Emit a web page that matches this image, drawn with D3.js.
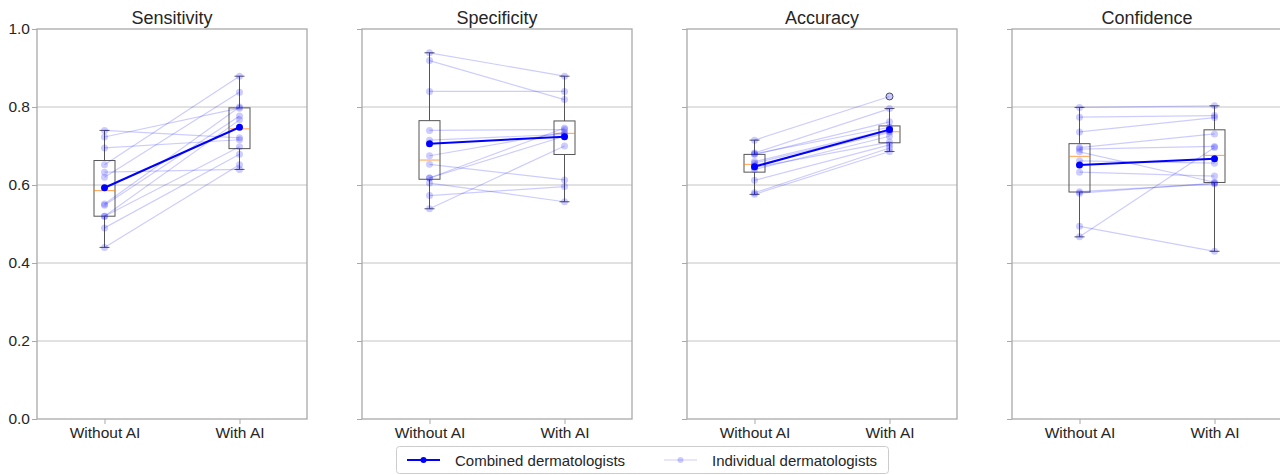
<!DOCTYPE html>
<html><head><meta charset="utf-8">
<script src="https://cdn.jsdelivr.net/npm/d3@7"></script>
<style>
body{margin:0;background:#fff;}
text{font-family:"Liberation Sans",Arial,sans-serif;}
</style>
</head><body>
<svg id="chart" width="1280" height="475"></svg>
<script>
// ---- data ----
const metrics = ["Sensitivity", "Specificity", "Accuracy", "Confidence"];
const conditions = ["Without AI", "With AI"];
const yTicks = [0.0, 0.2, 0.4, 0.6, 0.8, 1.0];

// individual dermatologists, paired (same index = same person)
const sensitivityWithout = [0.740, 0.723, 0.695, 0.652, 0.633, 0.620, 0.551, 0.548, 0.520, 0.520, 0.490, 0.440];
const sensitivityWith    = [0.721, 0.797, 0.716, 0.879, 0.640, 0.838, 0.800, 0.777, 0.767, 0.698, 0.679, 0.652];
const specificityWithout = [0.939, 0.919, 0.840, 0.740, 0.715, 0.675, 0.653, 0.618, 0.605, 0.573, 0.539, 0.618];
const specificityWith    = [0.879, 0.819, 0.840, 0.742, 0.730, 0.735, 0.613, 0.725, 0.557, 0.596, 0.700, 0.746];
const accuracyWithout    = [0.715, 0.682, 0.680, 0.678, 0.660, 0.656, 0.650, 0.645, 0.640, 0.612, 0.580, 0.576];
const accuracyWith       = [0.827, 0.796, 0.748, 0.762, 0.742, 0.738, 0.735, 0.710, 0.725, 0.703, 0.695, 0.686];
const confidenceWithout  = [0.799, 0.774, 0.736, 0.696, 0.692, 0.685, 0.662, 0.633, 0.583, 0.579, 0.494, 0.467];
const confidenceWith     = [0.803, 0.778, 0.773, 0.731, 0.699, 0.607, 0.656, 0.623, 0.603, 0.605, 0.430, 0.696];

// combined dermatologists
const combinedWithout = [0.593, 0.706, 0.647, 0.651];
const combinedWith    = [0.748, 0.724, 0.742, 0.667];

const legendLabels = ["Combined dermatologists", "Individual dermatologists"];

// ---- layout ----
const individual = [
  [sensitivityWithout, sensitivityWith],
  [specificityWithout, specificityWith],
  [accuracyWithout, accuracyWith],
  [confidenceWithout, confidenceWith]
];
const svg = d3.select("#chart");
const panelLeft = [37, 362, 687, 1012];
const pw = 270, plotTop = 29, plotBottom = 419;
const y = d3.scaleLinear().domain([0, 1]).range([plotBottom, plotTop]);
const x = d3.scalePoint().domain(conditions).range([0, pw]).padding(0.5);
const spineColor = "#a9a9a9", gridColor = "#c4c4c4", textColor = "#262626";
const boxHalf = 10.5, capHalf = 5;

function boxStats(arr) {
  const s = arr.slice().sort(d3.ascending);
  const q1 = d3.quantile(s, 0.25), med = d3.quantile(s, 0.5), q3 = d3.quantile(s, 0.75);
  const iqr = q3 - q1;
  const lo = d3.min(s.filter(v => v >= q1 - 1.5 * iqr));
  const hi = d3.max(s.filter(v => v <= q3 + 1.5 * iqr));
  const fliers = s.filter(v => v < lo || v > hi);
  return {q1, med, q3, lo, hi, fliers};
}

metrics.forEach((m, i) => {
  const g = svg.append("g").attr("transform", `translate(${panelLeft[i]},0)`);

  // grid
  g.append("g").selectAll("line").data(yTicks.filter(t => t > 0 && t < 1)).join("line")
    .attr("x1", 0).attr("x2", pw).attr("y1", d => y(d)).attr("y2", d => y(d))
    .attr("stroke", gridColor).attr("stroke-width", 1);

  // y axis
  const ya = g.append("g").call(d3.axisLeft(y).tickValues(yTicks).tickSize(5)
    .tickFormat(i === 0 ? d3.format(".1f") : () => ""));
  ya.select(".domain").remove();
  ya.selectAll(".tick line").attr("stroke", spineColor).attr("stroke-width", 1);
  ya.selectAll(".tick text").attr("fill", textColor).attr("font-size", 15.5)
    .attr("x", -7).attr("font-family", '"Liberation Sans",Arial,sans-serif');

  // x axis
  const xa = g.append("g").attr("transform", `translate(0,${plotBottom})`)
    .call(d3.axisBottom(x).tickSize(5));
  xa.select(".domain").remove();
  xa.selectAll(".tick line").attr("stroke", spineColor);
  xa.selectAll(".tick text").attr("fill", textColor).attr("font-size", 15.5)
    .attr("y", 8).attr("font-family", '"Liberation Sans",Arial,sans-serif');

  // spines
  g.append("rect").attr("x", 0).attr("y", plotTop).attr("width", pw).attr("height", plotBottom - plotTop)
    .attr("fill", "none").attr("stroke", spineColor).attr("stroke-width", 1.3);

  // title
  g.append("text").attr("x", pw / 2).attr("y", 24).attr("text-anchor", "middle")
    .attr("font-size", 18).attr("fill", textColor).text(m);

  // boxplots
  conditions.forEach((c, k) => {
    const st = boxStats(individual[i][k]);
    const cx = x(c);
    const bg = g.append("g");
    bg.append("line").attr("x1", cx).attr("x2", cx).attr("y1", y(st.q3)).attr("y2", y(st.hi))
      .attr("stroke", "#555").attr("stroke-width", 1);
    bg.append("line").attr("x1", cx).attr("x2", cx).attr("y1", y(st.q1)).attr("y2", y(st.lo))
      .attr("stroke", "#555").attr("stroke-width", 1);
    [st.lo, st.hi].forEach(v => bg.append("line")
      .attr("x1", cx - capHalf).attr("x2", cx + capHalf).attr("y1", y(v)).attr("y2", y(v))
      .attr("stroke", "#555").attr("stroke-width", 1));
    bg.append("rect").attr("x", cx - boxHalf).attr("width", boxHalf * 2)
      .attr("y", y(st.q3)).attr("height", y(st.q1) - y(st.q3))
      .attr("fill", "none").attr("stroke", "#555").attr("stroke-width", 1);
    bg.append("line").attr("x1", cx - boxHalf).attr("x2", cx + boxHalf)
      .attr("y1", y(st.med)).attr("y2", y(st.med))
      .attr("stroke", "#ff7f0e").attr("stroke-opacity", 0.75).attr("stroke-width", 1);
    bg.selectAll("circle.flier").data(st.fliers).join("circle").attr("class", "flier")
      .attr("cx", cx).attr("cy", d => y(d)).attr("r", 3.5)
      .attr("fill", "none").attr("stroke", "#555").attr("stroke-width", 1);
  });

  // individual lines + points
  const pairs = individual[i][0].map((v, j) => [v, individual[i][1][j]]);
  const line = d3.line().x((d, k) => x(conditions[k])).y(d => y(d));
  g.append("g").selectAll("path").data(pairs).join("path")
    .attr("d", line).attr("fill", "none").attr("stroke", "blue")
    .attr("stroke-opacity", 0.2).attr("stroke-width", 1.2);
  conditions.forEach((c, k) => {
    g.append("g").selectAll("circle").data(individual[i][k]).join("circle")
      .attr("cx", x(c)).attr("cy", d => y(d)).attr("r", 3.5)
      .attr("fill", "blue").attr("fill-opacity", 0.2);
  });

  // combined
  const comb = [combinedWithout[i], combinedWith[i]];
  g.append("path").datum(comb).attr("d", line).attr("fill", "none")
    .attr("stroke", "blue").attr("stroke-width", 2);
  g.append("g").selectAll("circle").data(comb).join("circle")
    .attr("cx", (d, k) => x(conditions[k])).attr("cy", d => y(d)).attr("r", 3.5).attr("fill", "blue");
});

// legend
const lg = svg.append("g");
lg.append("rect").attr("x", 396.5).attr("y", 446.5).attr("width", 492).attr("height", 27).attr("rx", 3)
  .attr("fill", "#fff").attr("stroke", "#cccccc");
const items = [
  {label: legendLabels[0], x0: 407, op: 1},
  {label: legendLabels[1], x0: 664, op: 0.2}
];
items.forEach(it => {
  lg.append("line").attr("x1", it.x0).attr("x2", it.x0 + 33).attr("y1", 460).attr("y2", 460)
    .attr("stroke", "blue").attr("stroke-opacity", it.op).attr("stroke-width", it.op === 1 ? 2 : 1.2);
  lg.append("circle").attr("cx", it.x0 + 16.5).attr("cy", 460).attr("r", 3)
    .attr("fill", "blue").attr("fill-opacity", it.op);
  lg.append("text").attr("x", it.x0 + 48).attr("y", 465.5).attr("font-size", 15)
    .attr("fill", textColor).text(it.label);
});
</script>
</body></html>
